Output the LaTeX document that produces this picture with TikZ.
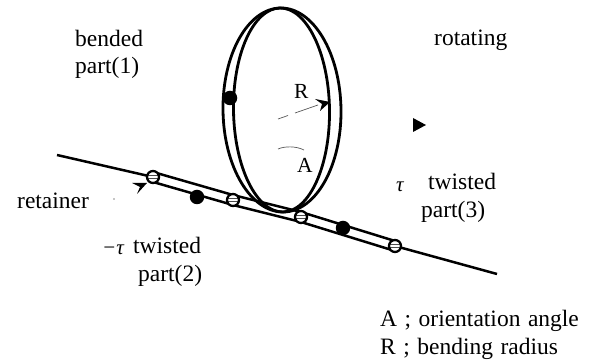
\documentclass[tikz,border=0pt]{standalone}
\usepackage{fontspec}
\setmainfont{Liberation Serif}
\usetikzlibrary{arrows.meta}
\begin{document}
\begin{tikzpicture}[x=1pt,y=-1pt,
  wire/.style={line width=2.5pt,black},
  ringline/.style={line width=2.8pt,black},
  lbl/.style={inner sep=0pt,anchor=base west,font=\fontsize{23.5}{26}\selectfont},
  smalllbl/.style={inner sep=0pt,anchor=base west,font=\fontsize{21.5}{24}\selectfont},
  taulbl/.style={inner sep=0pt,anchor=base west,font=\fontsize{21}{24}\selectfont\itshape},
  joint/.style={circle,draw=black,fill=white,line width=2.3pt,minimum size=12pt,inner sep=0pt,
    path picture={\draw[black!70,line width=.9pt] ([yshift=1.3pt]path picture bounding box.west)--([yshift=1.3pt]path picture bounding box.east)
      ([yshift=-1.3pt]path picture bounding box.west)--([yshift=-1.3pt]path picture bounding box.east);}},
  blob/.style={circle,fill=black,minimum size=14.5pt,inner sep=0pt},
  faint/.style={line width=.7pt,black!65},
  headfill/.style={fill=black}]
\useasboundingbox (0,0) rectangle (590,363);
\fill[white] (0,0) rectangle (590,363);
% loop
\draw[ringline,rotate around={0.85:(282,110)}] (282,110) ellipse [x radius=59pt,y radius=102pt];
\draw[ringline,rotate around={0.85:(282,110)}] (281.5,110) ellipse [x radius=48pt,y radius=102pt];
% retainer wire
\coordinate (wstart) at (57,155);
\coordinate (wend) at (497,274);
\coordinate (j1) at (153,177);
\coordinate (j2) at (233,200);
\coordinate (j3) at (301,217);
\coordinate (j4) at (395,246);
\draw[wire] (wstart) -- (j1);
\draw[wire] (j4) -- (wend);
\draw[wire] ([yshift=-5pt]j1) -- ([yshift=-5pt]j2) -- ([yshift=-5pt]j3) -- ([yshift=-5pt]j4);
\draw[wire] ([yshift=5pt]j1) -- ([yshift=5pt]j2) -- ([yshift=5pt]j3) -- ([yshift=5pt]j4);
\node[joint] (n1) at (j1) {};
\node[joint] (n2) at (j2) {};
\node[joint] (n3) at (j3) {};
\node[joint] (n4) at (j4) {};
\node[blob] (b1) at (230,98) {};
\node[blob] (b2) at (197,197) {};
\node[blob] (b3) at (343,228) {};
% radius
\coordinate (rc) at (278,119);
\coordinate (rm) at (288,115.5);
\coordinate (rn) at (295,113);
\coordinate (rq) at (318,105);
\draw[faint] (rc) -- (rm) (rn) -- (rq);
\fill[headfill] (330,102) -- (315,99) -- (322,104) -- (320,111) -- cycle;
% angle arc
\coordinate (a1) at (278,149);
\coordinate (a2) at (304,150);
\draw[faint] (a1) .. controls (285,146) and (296,146) .. (a2);
% retainer pointer
\coordinate (p0) at (114,199);
\fill[black!45] (p0) circle (.9pt);
\fill[headfill] (147,183) -- (132,183) -- (140,187) -- (137,194) -- cycle;
% triangle
\fill[black] (413,118) -- (426,125) -- (413,132) -- cycle;
% labels
\node[lbl] (t1) at (75,47) {bended};
\node[lbl] (t2) at (75,73.5) {part(1)};
\node[lbl] (t3) at (434,46) {rotating};
\node[smalllbl] (tR) at (294,99) {R};
\node[smalllbl] (tA) at (297,173) {A};
\node[taulbl] (t4) at (396,192) {τ};
\node[lbl] (t5) at (428,190) {twisted};
\node[lbl] (t6) at (421,218) {part(3)};
\node[lbl] (t7) at (17,209) {retainer};
\node[taulbl] (t8) at (102,255) {−τ};
\node[lbl] (t9) at (133,254) {twisted};
\node[lbl] (t10) at (138,282) {part(2)};
\node[lbl] (t11) at (380,327) {\spaceskip=7.5pt A ; orientation angle};
\node[lbl] (t12) at (380,355) {\spaceskip=7.5pt R ; bending radius};
\end{tikzpicture}
\end{document}
